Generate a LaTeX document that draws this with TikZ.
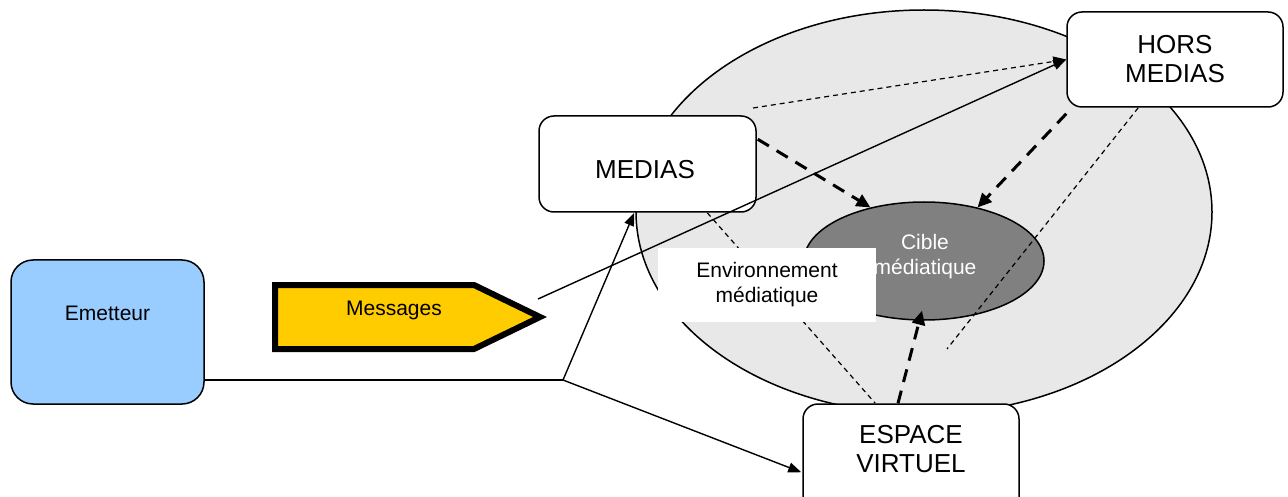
\documentclass[tikz,border=0pt]{standalone}
\usepackage{fontspec}
\setmainfont{Liberation Sans}
\usetikzlibrary{arrows.meta,calc,shapes.geometric}
\definecolor{envgray}{HTML}{E8E8E8}
\definecolor{ciblegray}{HTML}{808080}
\definecolor{emblue}{HTML}{99CCFF}
\definecolor{msgyellow}{HTML}{FFCC00}
\tikzset{
  bigtext/.style={font=\fontsize{26}{29}\selectfont, align=center},
  smalltext/.style={font=\fontsize{21}{25}\selectfont, align=center},
  mediabox/.style={draw, line width=1.5pt, rounded corners=15pt, fill=white, inner sep=0pt},
  link/.style={line width=1.4pt, -{Triangle[length=13pt,width=10pt]}},
  thindash/.style={line width=1.2pt, dash pattern=on 5pt off 4pt},
  thickdash/.style={line width=3pt, dash pattern=on 13pt off 9pt, -{Triangle[length=14pt,width=13pt]}},
}
\begin{document}
\begin{tikzpicture}[x=1pt,y=-1pt]
\useasboundingbox (0,0) rectangle (1288,497);
\clip (0,0) rectangle (1288,497);

% media environment and its target
\draw[line width=1.5pt, fill=envgray] (924,212) ellipse [x radius=288pt, y radius=202pt];
\node[ellipse, draw, line width=1.5pt, fill=ciblegray, minimum width=240pt, minimum height=118pt, inner sep=0pt] (cib) at (924,261) {};
\node[smalltext, text=white] at (925,257) {Cible\\médiatique};

% boxes
\node[mediabox, minimum width=193pt, minimum height=144pt, fill=emblue, rounded corners=22pt] (em) at (107.5,332) {};
\node[smalltext] at (107.5,313) {Emetteur};

\node[mediabox, minimum width=217pt, minimum height=96pt] (med) at (647.5,164) {};
\node[bigtext] at (645,170) {MEDIAS};

\node[mediabox, minimum width=216pt, minimum height=95pt, bigtext] (hors) at (1175,59.5) {HORS\\MEDIAS};

\node[mediabox, minimum width=216pt, minimum height=110pt] (esp) at (911,459) {};
\node[bigtext] at (911,449) {ESPACE\\VIRTUEL};

% message arrow
\draw[line width=6pt, fill=msgyellow, miter limit=10] (275,285) -- (474,285) -- (540,317) -- (474,349) -- (275,349) -- cycle;
\node[smalltext] (msg) at (394,310) {Messages};
\coordinate (msgtip) at (538,299);

% connectors
\coordinate (j) at (563,380);
\coordinate (horsfree) at (947,349);
\coordinate (medtop) at (753,108);

\draw[thindash] ($(med.south west)+(169,0)$) -- ($(esp.north west)+(73,0)$);
\draw[thindash] ($(hors.south west)+(72,0)$) -- (horsfree);
\draw[thindash, -{Triangle[length=13pt,width=10pt]}] (medtop) -- (hors.west);

\draw[thickdash] ($(med.north east)+(1,24)$) -- (cib.135);
\draw[thickdash] ($(hors.south west)+(0,6)$) -- (cib.45);
\draw[thickdash] ($(esp.north)+(-13,0)$) -- ($(cib.south)+(-2,-10)$);

% label over the environment
\node[fill=white, minimum width=218pt, minimum height=74pt, inner sep=0pt] (env) at (767,285) {};
\node[smalltext] at (767,285) {Environnement\\médiatique};

\draw[line width=1.4pt] (em.east |- j) -- (j);
\draw[link] (j) -- ($(med.south west)+(96,0)$);
\draw[link] (j) -- ($(esp.north west)+(-1,69)$);
\draw[link] (msgtip) -- (hors.west);
\end{tikzpicture}
\end{document}
